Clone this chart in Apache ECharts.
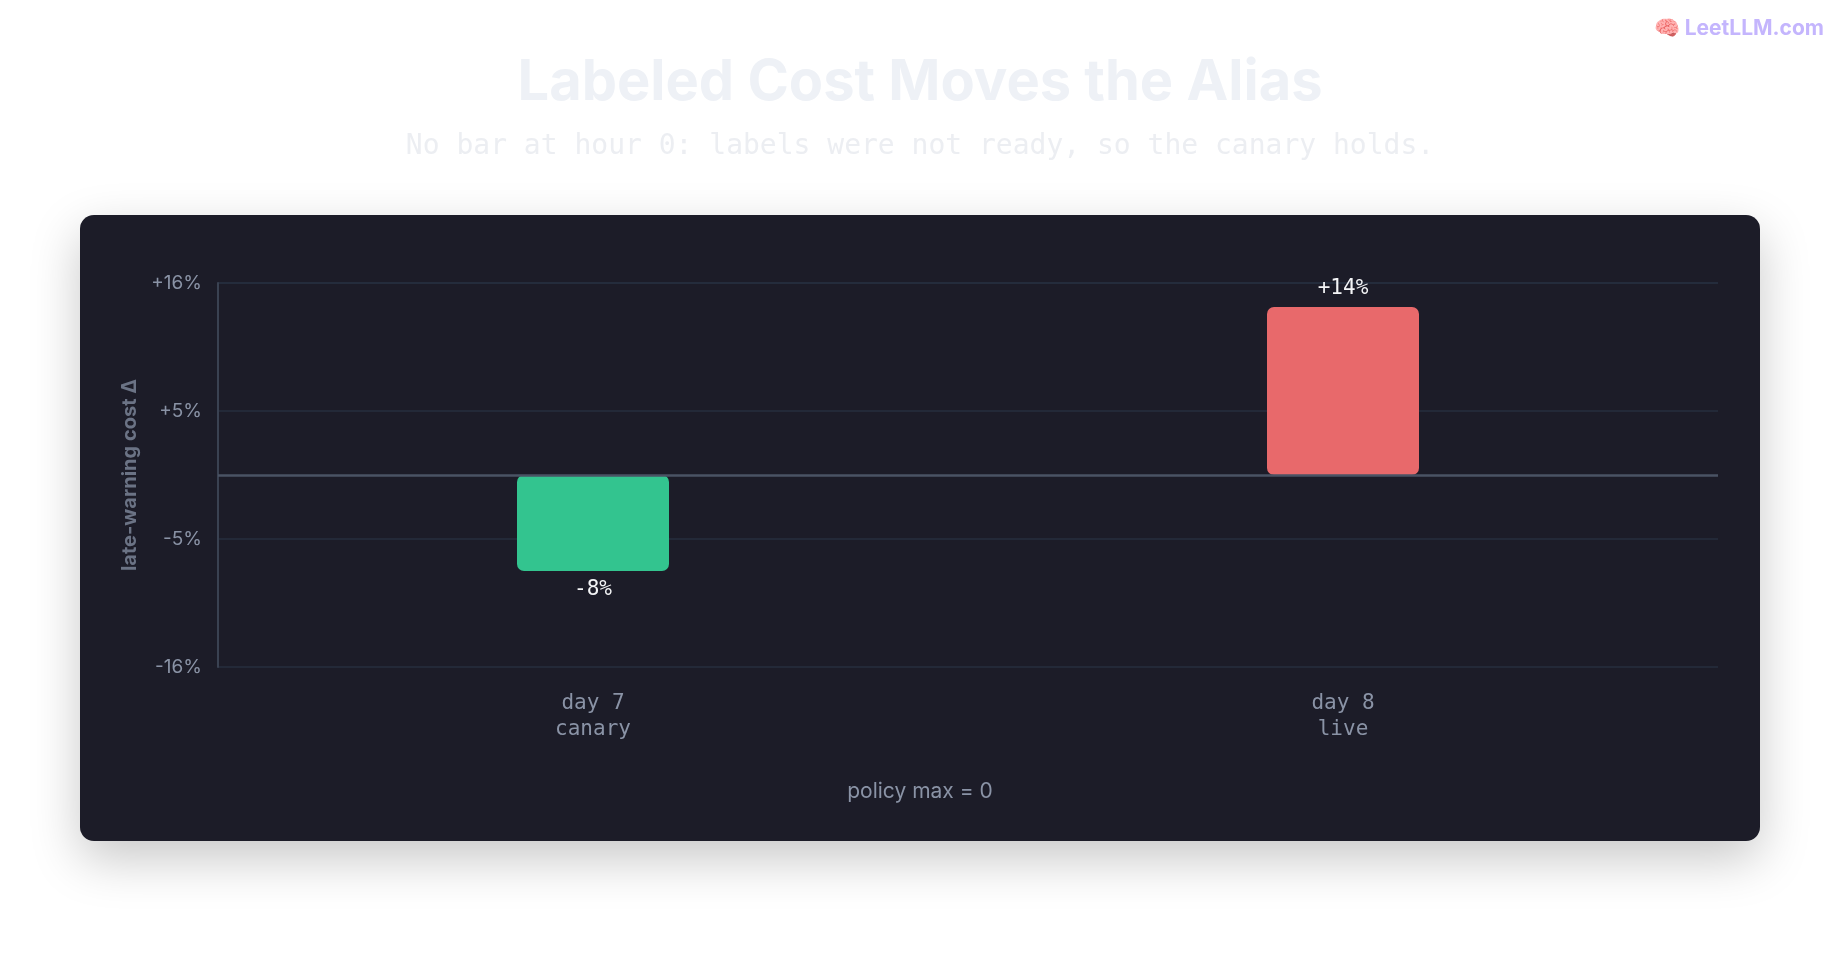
<!DOCTYPE html>
<html><head><meta charset="utf-8">
<script src="https://cdn.jsdelivr.net/npm/echarts@6/dist/echarts.min.js"></script>
<style>html,body{margin:0;padding:0;background:#fff}#c{width:1840px;height:960px}</style>
</head><body><div id="c"></div>
<script>
const categories = ['day 7\ncanary', 'day 8\nlive'];
const values = [-8, 14];
const barColors = ['#33c48f', '#e8696b'];
const yTickLabels = {'-16': '-16%', '-5': '-5%', '5': '+5%', '16': '+16%'};

const chart = echarts.init(document.getElementById('c'));
const mono = '"DejaVu Sans Mono", monospace';
chart.setOption({
  backgroundColor: '#ffffff',
  graphic: [
    {type: 'rect', z: -10, shape: {x: 80, y: 215, width: 1680, height: 626, r: 14},
     style: {fill: '#1c1c28', shadowBlur: 50, shadowOffsetY: 18, shadowColor: 'rgba(0,0,0,0.22)'}},
    {type: 'text', right: 16, top: 18, style: {text: '\u{1F9E0} LeetLLM.com', fill: '#c4b5fd', font: 'bold 21px Inter, sans-serif'}},
    {type: 'text', x: 920, y: 792, style: {text: 'policy max = 0', fill: '#8a93a6', font: '21px Inter, sans-serif', align: 'center', verticalAlign: 'middle'}}
  ],
  title: {
    text: 'Labeled Cost Moves the Alias', left: 'center', top: 50,
    textStyle: {color: '#eef1f6', fontSize: 56, fontWeight: 'bold', fontFamily: 'Inter, sans-serif'},
    subtext: 'No bar at hour 0: labels were not ready, so the canary holds.',
    subtextStyle: {color: '#eceef2', fontSize: 28, fontFamily: mono}, itemGap: 22
  },
  grid: {left: 218, right: 122, top: 283, bottom: 293},
  xAxis: {
    type: 'category', data: categories,
    axisLine: {show: false}, axisTick: {show: false},
    axisLabel: {color: '#8a93a6', fontSize: 21, fontFamily: mono, margin: 24, lineHeight: 26}
  },
  yAxis: {
    type: 'value', min: -16, max: 16, interval: 32 / 3,
    axisLine: {show: true, lineStyle: {color: '#3a4252', width: 2}},
    axisTick: {show: false},
    splitLine: {lineStyle: {color: '#262e3e', width: 1.5}},
    axisLabel: {color: '#8a93a6', fontSize: 19, fontFamily: 'Inter, sans-serif', margin: 16,
      formatter: v => yTickLabels[String(Math.round(v))] || ''},
    name: 'late-warning cost Δ', nameLocation: 'middle', nameGap: 66, nameRotate: 90,
    nameTextStyle: {color: '#6b7385', fontSize: 20, fontWeight: 'bold', fontFamily: 'Inter, sans-serif'}
  },
  series: [{
    type: 'bar', barWidth: 152,
    data: values.map((v, i) => ({value: v, itemStyle: {color: barColors[i], borderRadius: 7},
      label: {position: v >= 0 ? 'top' : 'bottom'}})),
    label: {show: true, color: '#f3f4f6', fontSize: 21, fontFamily: mono, distance: 8,
      formatter: p => (p.value > 0 ? '+' : '') + p.value + '%'},
    markLine: {silent: true, symbol: 'none', label: {show: false},
      lineStyle: {color: '#4a5364', width: 2.5, type: 'solid'}, data: [{yAxis: 0}]}
  }]
});
</script></body></html>
